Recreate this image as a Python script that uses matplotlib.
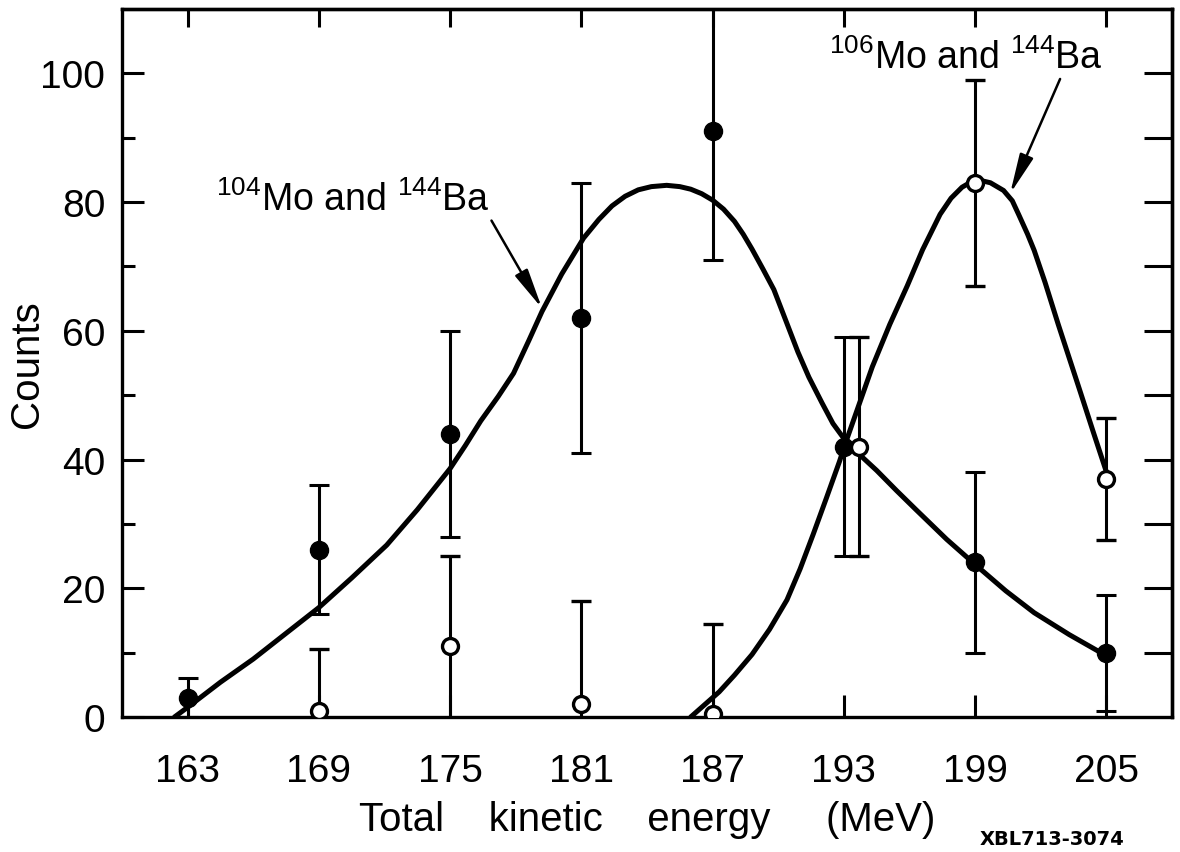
import numpy as np
import matplotlib.pyplot as plt

# ---- data ----
energy = [163, 169, 175, 181, 187, 193, 199, 205]

# filled circles
filled_y = [3, 26, 44, 62, 91, 42, 24, 10]
filled_err = [3, 10, 16, 21, 20, 17, 14, 9]

# open circles (no point at 163)
open_x = [169, 175, 181, 187, 193.7, 199, 205]
open_y = [1, 11, 2, 0.5, 42, 83, 37]
open_err = [9.5, 14, 16, 14, 17, 16, 9.5]

# hand drawn curves
mo104_x = [162.4, 163.0, 164.5, 166.0, 167.5, 169.0, 170.5, 172.1, 173.5, 175.0,
           175.7, 176.4, 177.2, 177.9, 178.6, 179.2, 180.1, 181.1, 181.8, 182.4,
           183.0, 183.6, 184.2, 184.9, 185.5, 186.0, 186.5, 187.0, 187.5, 188.0,
           188.4, 188.8, 189.3, 189.8, 190.3, 190.9, 191.4, 192.0, 192.5, 193.1,
           193.8, 194.5, 195.4, 196.3, 197.7, 199.1, 200.4, 201.7, 203.3, 204.9]
mo104_y = [0, 1.5, 5.4, 9.0, 13.0, 17.0, 21.6, 26.7, 32.2, 38.6,
           42.2, 46.0, 49.8, 53.4, 58.5, 63.0, 68.8, 74.4, 77.3, 79.4,
           80.9, 81.9, 82.4, 82.6, 82.4, 82.0, 81.3, 80.3, 78.9, 77.0,
           75.0, 72.7, 69.6, 66.4, 62.0, 56.7, 52.8, 48.8, 45.6, 42.8,
           40.5, 38.3, 35.2, 32.2, 27.6, 23.4, 19.6, 16.2, 12.8, 9.7]

mo106_x = [186.0, 186.6, 187.3, 188.0, 188.8, 189.6, 190.4, 191.0, 191.6, 192.2,
           192.8, 193.1, 193.7, 194.3, 195.1, 195.9, 196.6, 197.4, 197.9, 198.4,
           198.8, 199.2, 199.7, 200.3, 200.7, 201.0, 201.4, 201.7, 202.2, 202.8,
           203.3, 203.8, 204.4, 205.0]
mo106_y = [0, 1.8, 3.9, 6.5, 9.7, 13.6, 18.2, 23.0, 28.4, 34.0,
           39.7, 42.8, 48.6, 54.4, 61.0, 67.0, 72.6, 78.1, 80.6, 82.3,
           83.1, 83.4, 83.0, 81.8, 80.2, 78.0, 75.0, 72.5, 67.5, 61.0,
           55.8, 50.6, 44.3, 38.1]

xticks = [163, 169, 175, 181, 187, 193, 199, 205]
yticks = [0, 20, 40, 60, 80, 100]

plt.rcParams["font.family"] = ["Liberation Sans", "DejaVu Sans"]
plt.rcParams["mathtext.default"] = "regular"

fig = plt.figure(figsize=(11.8, 8.53), dpi=100)
ax = fig.add_axes([0.1034, 0.1583, 0.8898, 0.83])

ax.plot(mo104_x, mo104_y, "-", color="black", lw=3.6, solid_capstyle="round",
        solid_joinstyle="round", zorder=2)
ax.plot(mo106_x, mo106_y, "-", color="black", lw=3.6, solid_capstyle="round",
        solid_joinstyle="round", zorder=2)

ax.errorbar(energy, filled_y, yerr=filled_err, fmt="o", color="black", ms=13,
            mfc="black", mec="black", elinewidth=2.2, capsize=7.5, capthick=2.2, zorder=3)
ax.errorbar(open_x, open_y, yerr=open_err, fmt="o", color="black", ms=11.5,
            mfc="white", mec="black", mew=2.4, elinewidth=2.2, capsize=7.5, capthick=2.2,
            zorder=4)

ax.set_xlim(160.0, 208.0)
ax.set_ylim(0, 110)

ax.set_xticks(xticks)
ax.set_yticks(yticks)
ax.set_yticks(np.arange(10, 110, 20), minor=True)
ax.tick_params(axis="both", which="major", direction="in", length=16, width=2.2,
               labelsize=28)
ax.tick_params(axis="x", which="major", pad=26)
ax.tick_params(axis="y", which="major", pad=12)
ax.tick_params(axis="y", which="minor", direction="in", length=9, width=2.2)
ax.tick_params(axis="x", which="minor", bottom=False)

top = ax.secondary_xaxis("top")
top.set_xticks(xticks)
top.tick_params(direction="in", length=13, width=2.2, labeltop=False)
right = ax.secondary_yaxis("right")
right.set_yticks(np.arange(10, 110, 10))
right.tick_params(direction="in", length=20, width=2.2, labelright=False)

for sp in list(ax.spines.values()) + [top.spines["top"], right.spines["right"]]:
    sp.set_linewidth(2.4)

ax.set_xlabel("Total    kinetic    energy     (MeV)", fontsize=29, labelpad=8)
ax.set_ylabel("Counts", fontsize=29)
ax.yaxis.set_label_coords(-0.072, 0.5)

ax.annotate(r"$^{104}$Mo and $^{144}$Ba", xy=(179.2, 63.5), xytext=(164.3, 78.8),
            fontsize=27, ha="left", va="baseline",
            arrowprops=dict(arrowstyle="-|>,head_length=0.9,head_width=0.16",
                            color="black", lw=1.8, shrinkA=0, shrinkB=0,
                            relpos=(1.0, 0.0)))
ax.annotate(r"$^{106}$Mo and $^{144}$Ba", xy=(200.6, 81.3), xytext=(192.3, 100.8),
            fontsize=27, ha="left", va="baseline",
            arrowprops=dict(arrowstyle="-|>,head_length=0.9,head_width=0.16",
                            color="black", lw=1.8, shrinkA=0, shrinkB=0,
                            relpos=(0.85, 0.0)))

fig.text(0.953, 0.005, "XBL713-3074", fontsize=14, fontweight="bold",
         ha="right", va="bottom", family="DejaVu Sans")

fig.savefig("out.png", dpi=100)
